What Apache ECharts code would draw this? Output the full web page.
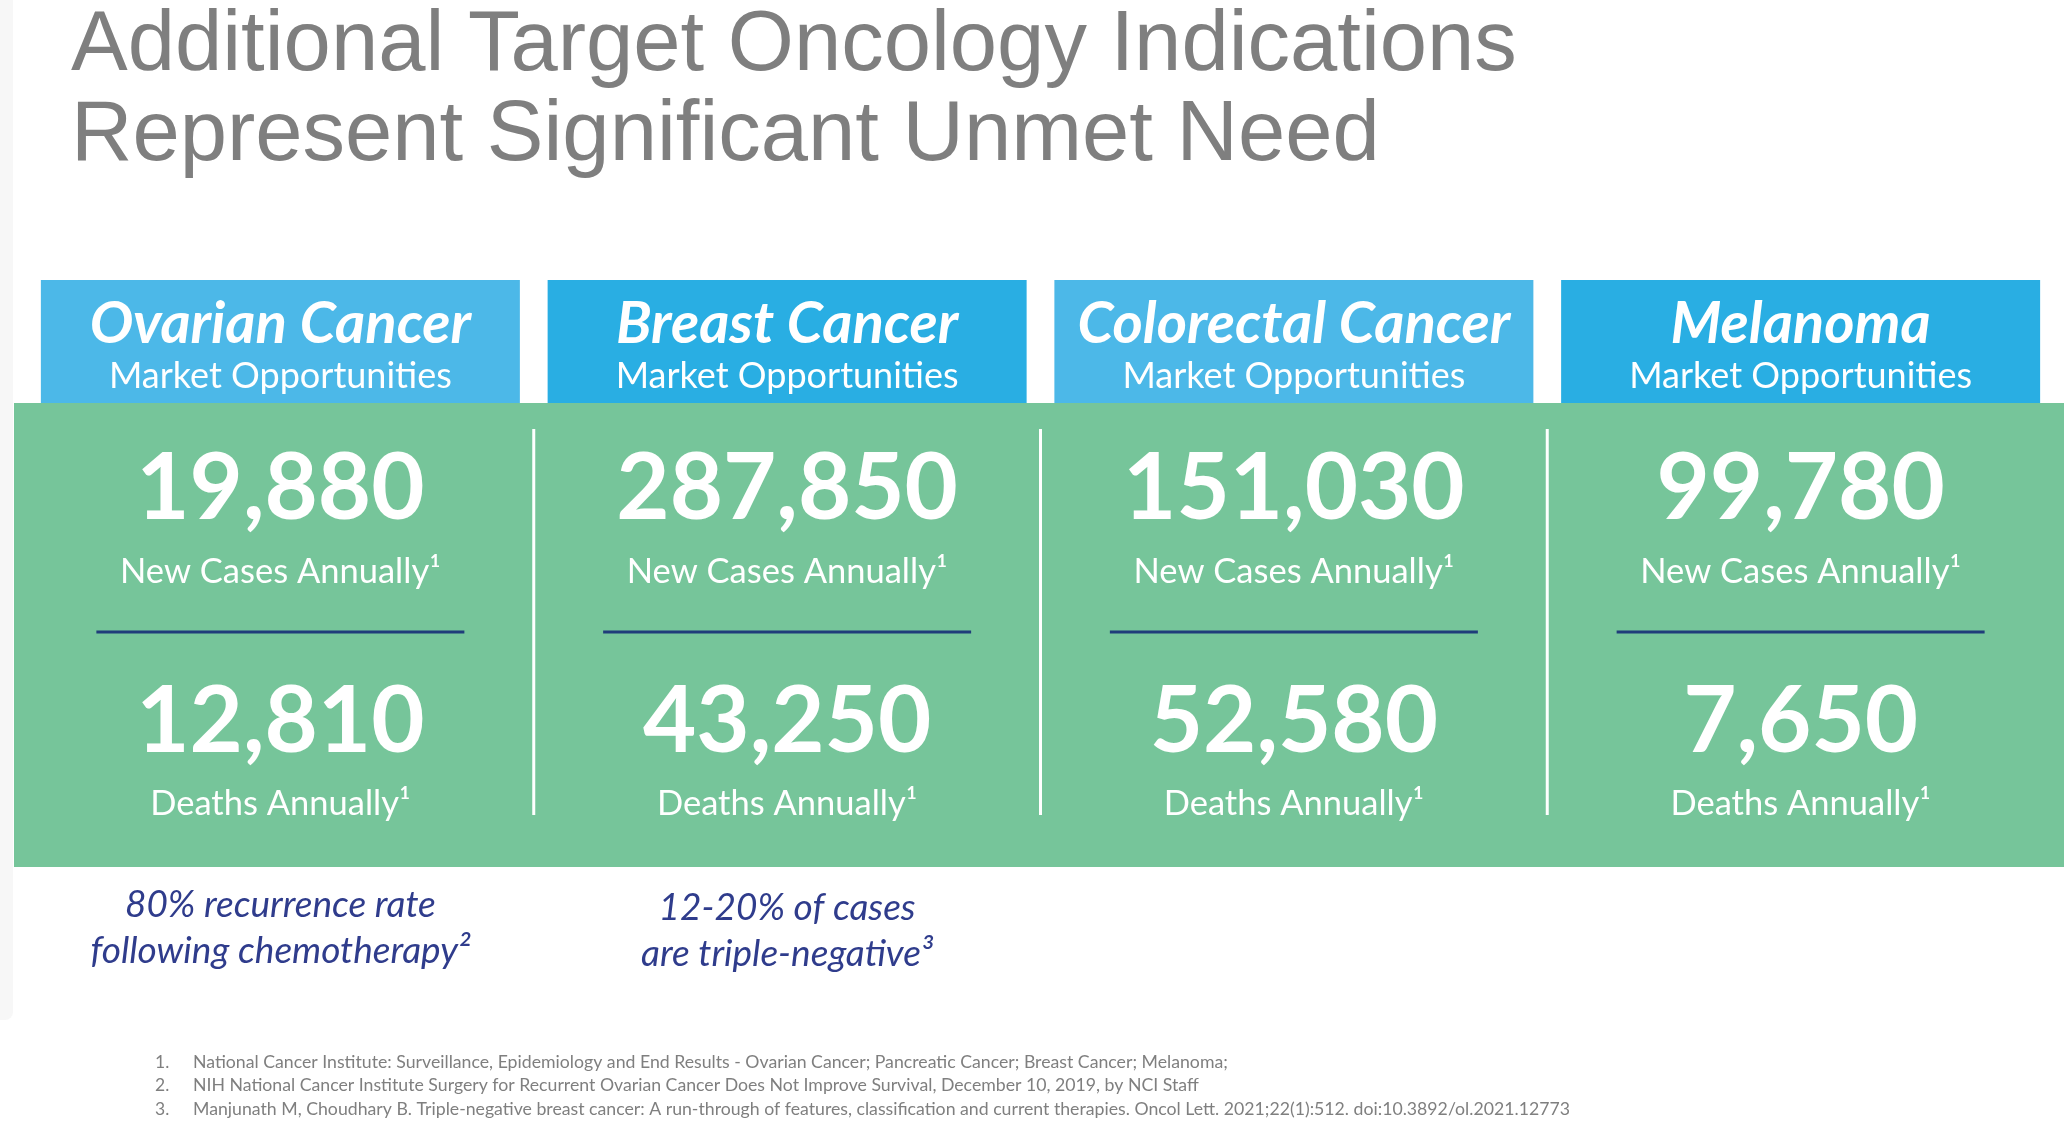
<!DOCTYPE html>
<html>
<head>
<meta charset="utf-8">
<script src="https://cdn.jsdelivr.net/npm/echarts@6/dist/echarts.min.js"></script>
<style>
html,body{margin:0;padding:0;background:#fff;}
#chart{width:2064px;height:1126px;}
</style>
</head>
<body>
<div id="chart"></div>
<script>
// ---- data ----
var titleLines = ['Additional Target Oncology Indications', 'Represent Significant Unmet Need'];
var categories = ['Ovarian Cancer', 'Breast Cancer', 'Colorectal Cancer', 'Melanoma'];
var subHeader = 'Market Opportunities';
var newCases = [19880, 287850, 151030, 99780];
var deaths = [12810, 43250, 52580, 7650];
var newCasesLabel = 'New Cases Annually\u00b9';
var deathsLabel = 'Deaths Annually\u00b9';
var notes = [
  ['80% recurrence rate', 'following chemotherapy\u00b2'],
  ['12-20% of cases', 'are triple-negative\u00b3'],
  [],
  []
];
var footnoteNums = ['1.', '2.', '3.'];
var footnotes = [
  'National Cancer Institute: Surveillance, Epidemiology and End Results - Ovarian Cancer; Pancreatic Cancer; Breast Cancer; Melanoma;',
  'NIH National Cancer Institute Surgery for Recurrent Ovarian Cancer Does Not Improve Survival, December 10, 2019, by NCI Staff',
  'Manjunath M, Choudhary B. Triple-negative breast cancer: A run-through of features, classification and current therapies. Oncol Lett. 2021;22(1):512. doi:10.3892/ol.2021.12773'
];

// ---- styles ----
var headerColors = ['#4cb8e8', '#29aee3'];
var green = '#76c59a';
var navy = '#1f3d7a';
var noteColor = '#2f3c8c';
var grayText = '#7f7f7f';
var sans = 'Lato, "Open Sans", sans-serif';

function fmt(v) { return v.toLocaleString('en-US'); }

var chart = echarts.init(document.getElementById('chart'), null, {renderer: 'canvas'});

var graphics = [
  {type: 'rect', shape: {x: 0, y: 0, width: 13, height: 1020, r: [0, 0, 8, 0]}, style: {fill: '#f7f7f7'}, z: 0},
  {type: 'rect', shape: {x: 14, y: 403, width: 2050, height: 464}, style: {fill: green}, z: 1}
];
titleLines.forEach(function (t, i) {
  graphics.push({
    type: 'text', z: 5,
    style: {text: t, x: 71, y: 47 + i * 90, fill: grayText,
      fontFamily: '"Liberation Sans Narrow", "Liberation Sans", Arial, sans-serif',
      fontSize: 85, verticalAlign: 'middle', align: 'left'}
  });
});
footnotes.forEach(function (t, i) {
  var y = 1062 + i * 23.5;
  graphics.push({type: 'text', z: 5, style: {text: footnoteNums[i], x: 155, y: y, fill: grayText, fontFamily: sans, fontSize: 17.5, verticalAlign: 'middle'}});
  graphics.push({type: 'text', z: 5, style: {text: t, x: 193, y: y, fill: grayText, fontFamily: sans, fontSize: 17.7, verticalAlign: 'middle'}});
});

function renderItem(params, api) {
  var idx = api.value(0);
  var cx = api.coord([idx, 0])[0];
  var band = api.size([1, 0])[0];
  var children = [];
  // header box
  children.push({type: 'rect', shape: {x: cx - 239.5, y: 280, width: 479, height: 123},
    style: {fill: headerColors[idx % 2]}, z2: 2});
  children.push({type: 'text', z2: 3, style: {text: categories[idx], x: cx, y: 324, fill: '#fff',
    fontFamily: sans, fontWeight: 'bold', fontStyle: 'italic', fontSize: 58, align: 'center', verticalAlign: 'middle'}});
  children.push({type: 'text', z2: 3, style: {text: subHeader, x: cx, y: 376, fill: '#fff',
    fontFamily: sans, fontSize: 36, align: 'center', verticalAlign: 'middle'}});
  // numbers
  children.push({type: 'text', z2: 3, style: {text: fmt(api.value(1)), x: cx, y: 489, fill: '#fff',
    fontFamily: sans, fontWeight: 'bold', fontSize: 92, align: 'center', verticalAlign: 'middle'}});
  children.push({type: 'text', z2: 3, style: {text: newCasesLabel, x: cx, y: 572, fill: '#fff',
    fontFamily: sans, fontSize: 34.5, align: 'center', verticalAlign: 'middle'}});
  children.push({type: 'rect', z2: 3, shape: {x: cx - 184, y: 630.5, width: 368, height: 3}, style: {fill: navy}});
  children.push({type: 'text', z2: 3, style: {text: fmt(api.value(2)), x: cx, y: 722, fill: '#fff',
    fontFamily: sans, fontWeight: 'bold', fontSize: 92, align: 'center', verticalAlign: 'middle'}});
  children.push({type: 'text', z2: 3, style: {text: deathsLabel, x: cx, y: 804, fill: '#fff',
    fontFamily: sans, fontSize: 34.5, align: 'center', verticalAlign: 'middle'}});
  // separator
  if (idx < categories.length - 1) {
    children.push({type: 'rect', z2: 3, shape: {x: cx + band / 2 - 1.5, y: 429, width: 3, height: 386}, style: {fill: '#fff'}});
  }
  // notes
  notes[idx].forEach(function (t, j) {
    children.push({type: 'text', z2: 3, style: {text: t, x: cx, y: 905 + j * 46 + idx * 3, fill: noteColor,
      fontFamily: sans, fontStyle: 'italic', fontSize: 37, align: 'center', verticalAlign: 'middle'}});
  });
  return {type: 'group', children: children};
}

var seriesData = categories.map(function (c, i) { return [i, newCases[i], deaths[i]]; });

chart.setOption({
  backgroundColor: '#ffffff',
  animation: false,
  grid: {left: 27, right: 10, top: 280, bottom: 200, containLabel: false},
  xAxis: {type: 'category', data: categories, show: false},
  yAxis: {type: 'value', min: 0, max: 1, show: false},
  graphic: graphics,
  series: [{
    type: 'custom',
    renderItem: renderItem,
    data: seriesData,
    encode: {x: 0},
    z: 3
  }]
});
</script>
</body>
</html>
